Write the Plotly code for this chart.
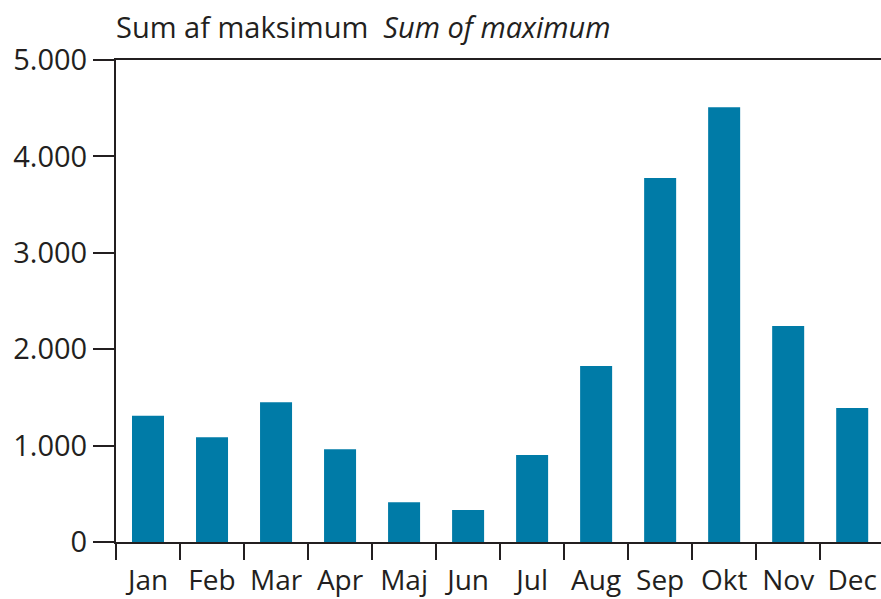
import plotly.graph_objects as go

# Monthly data
months = ['Jan', 'Feb', 'Mar', 'Apr', 'Maj', 'Jun', 'Jul', 'Aug', 'Sep', 'Okt', 'Nov', 'Dec']
maximum_sum = [1310, 1086, 1449, 962, 412, 332, 902, 1826, 3776, 4509, 2241, 1390]
y_ticks = [0, 1000, 2000, 3000, 4000, 5000]
y_tick_labels = ['0', '1.000', '2.000', '3.000', '4.000', '5.000']

FONT = "Open Sans"
INK = '#231F20'

fig = go.Figure()

fig.add_trace(go.Bar(
    x=months,
    y=maximum_sum,
    marker=dict(color='#007BA7', line=dict(width=0)),
    showlegend=False
))

fig.update_layout(
    margin=dict(l=116, r=0, t=60, b=57, autoexpand=False),
    bargap=0.5,
    plot_bgcolor='white',
    paper_bgcolor='white',
    font=dict(family=FONT, size=29, color=INK),
    title=dict(
        text="Sum af maksimum  <i>Sum of maximum</i>",
        x=116 / 881, xanchor='left',
        y=1 - 28 / 599, yanchor='middle',
        font=dict(family=FONT, size=29, color=INK)
    ),
    xaxis=dict(
        range=[-0.5, 11.45],
        showline=True, linecolor=INK, linewidth=2,
        mirror=True,
        ticks='outside', tickson='boundaries', ticklen=16, tickwidth=2, tickcolor=INK,
        tickangle=0, tickfont=dict(size=28), ticklabelstandoff=12,
        showgrid=False, zeroline=False
    ),
    yaxis=dict(
        range=[0, 5000],
        tickvals=y_ticks, ticktext=y_tick_labels,
        showline=True, linecolor=INK, linewidth=2,
        ticks='outside', ticklen=21, tickwidth=2, tickcolor=INK,
        showgrid=False, zeroline=False
    )
)

# page has a default 8px body margin; drop it so the chart fills the window
fig.write_html(
    "out.html",
    config=dict(displayModeBar=False),
    post_script="document.body.style.margin='0';"
                "Plotly.Plots.resize(document.getElementById('{plot_id}'));"
)
